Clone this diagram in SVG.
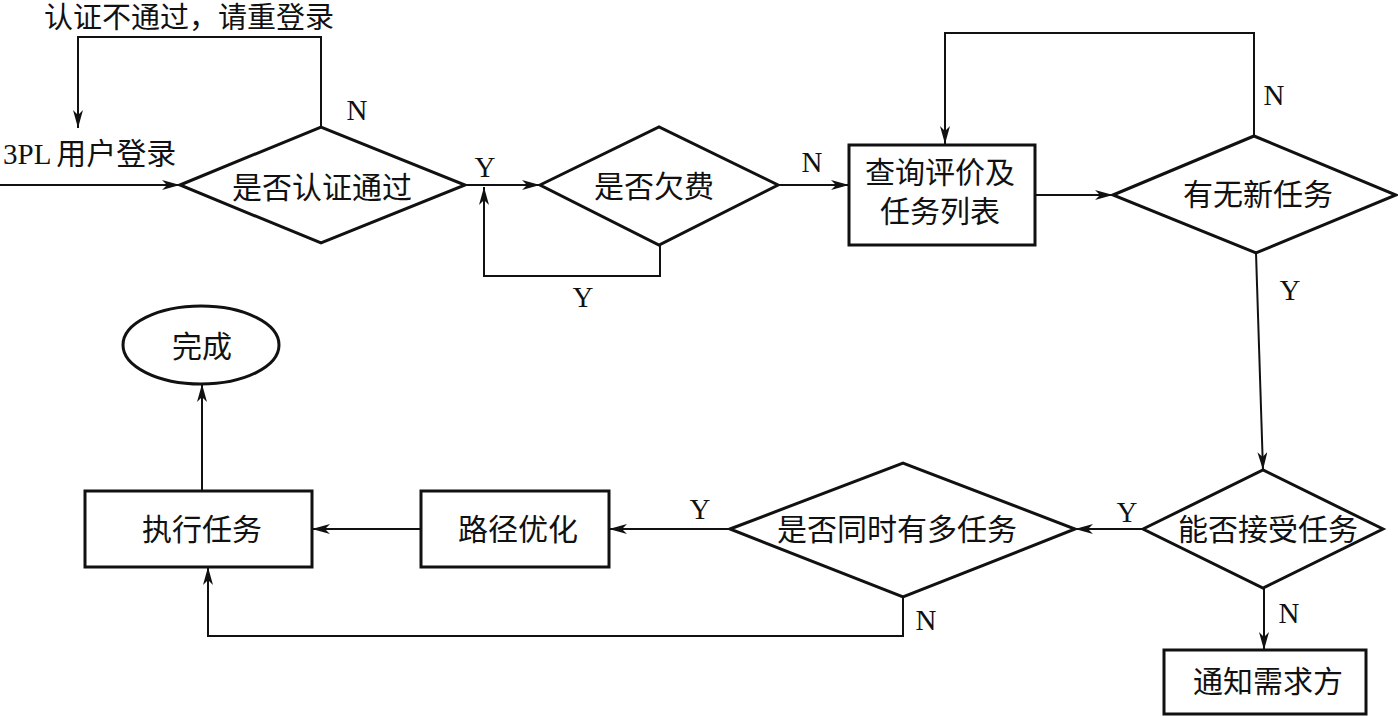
<svg xmlns="http://www.w3.org/2000/svg" width="1398" height="716" viewBox="0 0 1398 716">
<defs>
<marker id="arr" viewBox="0 0 18 10" refX="18" refY="5" markerWidth="18" markerHeight="10" markerUnits="userSpaceOnUse" orient="auto">
<path d="M0,0 L18,5 L0,10 L5,5 z" fill="#111"/>
</marker>
<style>
.shape{fill:#fff;stroke:#111;stroke-width:3}
.conn{fill:none;stroke:#111;stroke-width:2}
.cn{font-family:"Noto Sans CJK SC","Liberation Serif",serif;font-size:30px;fill:#111;text-anchor:middle}
.lt{font-family:"Liberation Serif","Noto Sans CJK SC",serif;font-size:29px;fill:#111;text-anchor:middle}
</style>
</defs>
<rect width="1398" height="716" fill="#fff"/>

<g id="connectors">
<path class="conn" d="M0,185 L180,185" marker-end="url(#arr)"/>
<path class="conn" d="M321,127 L321,37 L78,37 L78,128" marker-end="url(#arr)"/>
<path class="conn" d="M465,185 L540,185" marker-end="url(#arr)"/>
<path class="conn" d="M660,245 L660,276 L484,276 L484,187" marker-end="url(#arr)"/>
<path class="conn" d="M778,185 L849,185" marker-end="url(#arr)"/>
<path class="conn" d="M1035,195 L1113,195" marker-end="url(#arr)"/>
<path class="conn" d="M1254,136 L1254,33 L945,33 L945,144" marker-end="url(#arr)"/>
<path class="conn" d="M1256,253 L1263,470" marker-end="url(#arr)"/>
<path class="conn" d="M1143,529 L1075,529" marker-end="url(#arr)"/>
<path class="conn" d="M1264,588 L1264,650" marker-end="url(#arr)"/>
<path class="conn" d="M730,529 L609,529" marker-end="url(#arr)"/>
<path class="conn" d="M421,529 L312,529" marker-end="url(#arr)"/>
<path class="conn" d="M903,597 L903,636 L208,636 L208,567" marker-end="url(#arr)"/>
<path class="conn" d="M202,491 L202,384" marker-end="url(#arr)"/>
<text class="cn" x="189" y="28" style="font-size:29px">认证不通过，请重登录</text>
<text x="3" y="164" style="font-family:'Liberation Serif',serif;font-size:29px;fill:#111">3PL<tspan style="font-family:'Noto Sans CJK SC',sans-serif;font-size:30px" dx="5">用户登录</tspan></text>
<text class="lt" x="357" y="120">N</text>
<text class="lt" x="485" y="177">Y</text>
<text class="lt" x="583" y="307">Y</text>
<text class="lt" x="812" y="172">N</text>
<text class="lt" x="1274" y="105">N</text>
<text class="lt" x="1290" y="300">Y</text>
<text class="lt" x="1127" y="522">Y</text>
<text class="lt" x="700" y="519">Y</text>
<text class="lt" x="1289" y="623">N</text>
<text class="lt" x="926" y="630">N</text>
</g>

<g id="n-auth">
<polygon class="shape" points="180,185 321,127 465,185 321,243"/>
<text class="cn" x="322" y="198">是否认证通过</text>
</g>
<g id="n-fee">
<polygon class="shape" points="540,185 659,127 778,185 659,245"/>
<text class="cn" x="654" y="197">是否欠费</text>
</g>
<g id="n-query">
<rect class="shape" x="849" y="145" width="186" height="100"/>
<text class="cn" x="940" y="183">查询评价及</text>
<text class="cn" x="940" y="222">任务列表</text>
</g>
<g id="n-newtask">
<polygon class="shape" points="1113,195 1254,136 1396,195 1256,253"/>
<text class="cn" x="1258" y="205">有无新任务</text>
</g>
<g id="n-accept">
<polygon class="shape" points="1143,529 1263,470 1383,529 1263,588"/>
<text class="cn" x="1268" y="540">能否接受任务</text>
</g>
<g id="n-notify">
<rect class="shape" x="1164" y="650" width="202" height="64"/>
<text class="cn" x="1268" y="692">通知需求方</text>
</g>
<g id="n-multi">
<polygon class="shape" points="730,529 903,463 1075,529 903,597"/>
<text class="cn" x="897" y="540">是否同时有多任务</text>
</g>
<g id="n-route">
<rect class="shape" x="421" y="491" width="188" height="76"/>
<text class="cn" x="518" y="540">路径优化</text>
</g>
<g id="n-exec">
<rect class="shape" x="85" y="491" width="227" height="76"/>
<text class="cn" x="202" y="540">执行任务</text>
</g>
<g id="n-done">
<ellipse class="shape" cx="201" cy="345" rx="78" ry="39"/>
<text class="cn" x="202" y="357">完成</text>
</g>
</svg>
